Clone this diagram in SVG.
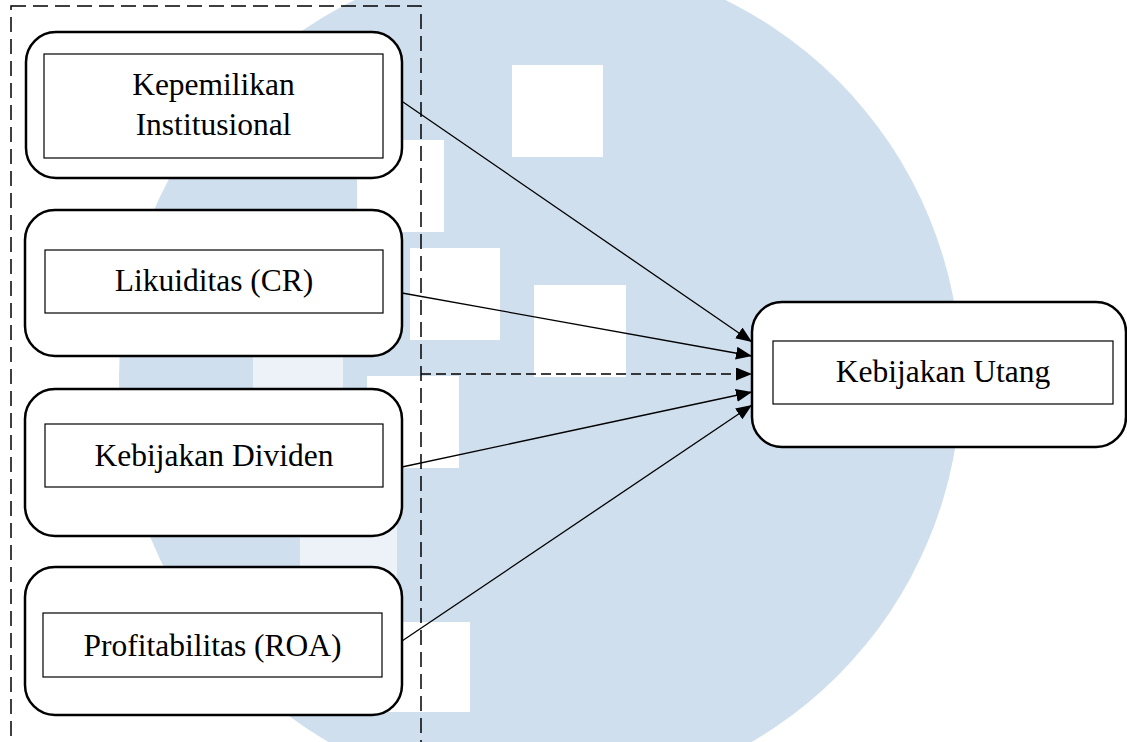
<svg xmlns="http://www.w3.org/2000/svg" width="1127" height="742" viewBox="0 0 1127 742">
<defs>
<style>
.outer{fill:#fff;stroke:#000;stroke-width:2.5}
.inner{fill:#fff;stroke:#000;stroke-width:1.2}
.lbl{font-family:"Liberation Serif","Times New Roman",serif;font-size:31.5px;fill:#000;text-anchor:middle}
.conn{stroke:#000;stroke-width:1.3;fill:none}
.wm{fill:#fff}
</style>
<marker id="ah" viewBox="0 0 16 13" refX="16" refY="6.5" markerWidth="16" markerHeight="13" markerUnits="userSpaceOnUse" orient="auto">
<path d="M0,0 L16,6.5 L0,13 z" fill="#000"/>
</marker>
</defs>
<rect width="1127" height="742" fill="#fff"/>
<g id="watermark">
<circle cx="540" cy="378" r="421" fill="#cfdfee"/>
<rect class="wm" x="512" y="65" width="91" height="92"/>
<rect class="wm" x="357" y="140" width="87" height="92"/>
<rect class="wm" x="410" y="248" width="90" height="92"/>
<rect class="wm" x="534" y="285" width="92" height="92"/>
<rect class="wm" x="367" y="376" width="92" height="92"/>
<rect class="wm" x="380" y="622" width="90" height="90"/>
<rect class="wm" x="253" y="330" width="90" height="90" opacity="0.6"/>
<rect class="wm" x="300" y="500" width="97" height="90" opacity="0.6"/>
</g>
<g id="group-box">
<rect x="11" y="6" width="410" height="780" fill="none" stroke="#000" stroke-width="1.5" stroke-dasharray="15 7"/>
</g>
<g id="node-kepemilikan">
<rect class="outer" x="26" y="32" width="376" height="146" rx="30"/>
<rect class="inner" x="44" y="54" width="339" height="104"/>
<text class="lbl" x="213.5" y="95">Kepemilikan</text>
<text class="lbl" x="213.5" y="135">Institusional</text>
</g>
<g id="node-likuiditas">
<rect class="outer" x="25" y="210" width="377" height="146" rx="30"/>
<rect class="inner" x="45" y="250" width="338" height="63"/>
<text class="lbl" x="214" y="291">Likuiditas (CR)</text>
</g>
<g id="node-dividen">
<rect class="outer" x="25" y="389" width="377" height="147" rx="30"/>
<rect class="inner" x="45" y="424" width="338" height="63"/>
<text class="lbl" x="214" y="466">Kebijakan Dividen</text>
</g>
<g id="node-profitabilitas">
<rect class="outer" x="25" y="567" width="377" height="148" rx="30"/>
<rect class="inner" x="43" y="613" width="339" height="64"/>
<text class="lbl" x="212.5" y="656">Profitabilitas (ROA)</text>
</g>
<g id="node-utang">
<rect class="outer" x="752" y="302" width="374" height="145" rx="30"/>
<rect class="inner" x="773" y="341" width="340" height="63"/>
<text class="lbl" x="943" y="382">Kebijakan Utang</text>
</g>
<g id="connectors">
<line class="conn" x1="403" y1="102" x2="752" y2="342" marker-end="url(#ah)"/>
<line class="conn" x1="402" y1="293" x2="752" y2="356" marker-end="url(#ah)"/>
<line class="conn" x1="421" y1="374" x2="752" y2="374" stroke-dasharray="10 5" marker-end="url(#ah)"/>
<line class="conn" x1="402" y1="467" x2="752" y2="392" marker-end="url(#ah)"/>
<line class="conn" x1="402" y1="641" x2="752" y2="405" marker-end="url(#ah)"/>
</g>
</svg>
